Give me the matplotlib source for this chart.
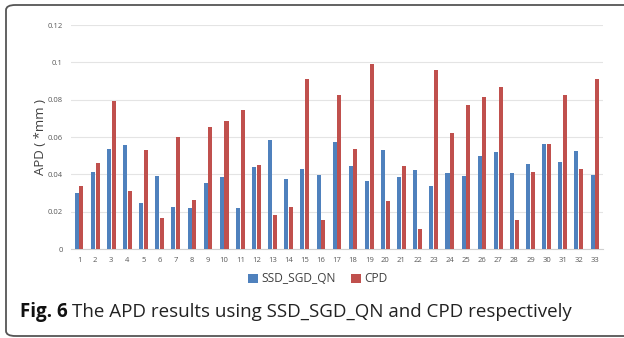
import numpy as np
import matplotlib.pyplot as plt
from matplotlib.patches import FancyBboxPatch

# =========================
# data
# =========================
cases = [str(i) for i in range(1, 34)]

ssd_sgd_qn = [0.0298, 0.0414, 0.0538, 0.0557, 0.0248, 0.0391, 0.0225, 0.0221, 0.0354, 0.0384,
              0.0221, 0.0438, 0.0582, 0.0373, 0.0430, 0.0396, 0.0573, 0.0446, 0.0364, 0.0532,
              0.0386, 0.0421, 0.0339, 0.0409, 0.0393, 0.0498, 0.0520, 0.0409, 0.0455, 0.0562,
              0.0464, 0.0523, 0.0396]

cpd = [0.0336, 0.0461, 0.0793, 0.0309, 0.0529, 0.0164, 0.0600, 0.0261, 0.0652, 0.0688,
       0.0746, 0.0450, 0.0182, 0.0227, 0.0911, 0.0154, 0.0823, 0.0536, 0.0993, 0.0255,
       0.0443, 0.0105, 0.0959, 0.0623, 0.0771, 0.0814, 0.0866, 0.0157, 0.0412, 0.0564,
       0.0823, 0.0429, 0.0909]

yticks = [0, 0.02, 0.04, 0.06, 0.08, 0.1, 0.12]
ytick_labels = ["0", "0.02", "0.04", "0.06", "0.08", "0.1", "0.12"]

plt.rcParams['font.family'] = ['Open Sans', 'DejaVu Sans']

fig = plt.figure(figsize=(6.24, 3.38), dpi=100)
ax = fig.add_axes([71 / 624, 1 - 249 / 338, 532 / 624, 224 / 338])

x = np.arange(len(cases))
w = 0.25
ax.bar(x - 0.145, ssd_sgd_qn, w, color='#4F81BD', label='SSD_SGD_QN', zorder=3)
ax.bar(x + 0.145, cpd, w, color='#C0504D', label='CPD', zorder=3)

ax.set_xlim(-0.5, len(cases) - 0.5)
ax.set_ylim(0, 0.12)
ax.set_yticks(yticks)
ax.set_yticklabels(ytick_labels)
ax.set_xticks(x)
ax.set_xticklabels(cases)
ax.tick_params(length=0, labelsize=5.5, colors='#595959', pad=6)
ax.grid(axis='y', color='#E4E4E4', linewidth=0.8, zorder=0)
for s in ['top', 'right', 'left']:
    ax.spines[s].set_visible(False)
ax.spines['bottom'].set_color('#D0D0D0')

ax.set_ylabel('APD ( *mm )', fontsize=9.5, color='#404040', labelpad=0)

ax.legend(loc='center', bbox_to_anchor=(318 / 624, 1 - 279 / 338),
          bbox_transform=fig.transFigure, ncol=2, frameon=False,
          fontsize=8.6, handlelength=0.8, handleheight=0.8, handletextpad=0.3,
          columnspacing=1.3, labelcolor='#404040')

# caption
t = fig.text(20 / 624, 1 - 312 / 338, 'Fig. 6', fontsize=13.5, fontweight='bold',
             va='center', ha='left', color='#111111')
fig.canvas.draw()
bb = t.get_window_extent()
fig.text((bb.x1 + 4) / 624, 1 - 312 / 338,
         'The APD results using SSD_SGD_QN and CPD respectively',
         fontsize=13.5, va='center', ha='left', color='#222222')

# frame around the figure
box = FancyBboxPatch((6 / 624, 2 / 338), 1.05, 1 - 7 / 338,
                     boxstyle='round,pad=0,rounding_size=0.015',
                     transform=fig.transFigure, fill=False,
                     edgecolor='#555555', linewidth=1.3, clip_on=False)
fig.patches.append(box)

fig.savefig('out.png', dpi=100)
